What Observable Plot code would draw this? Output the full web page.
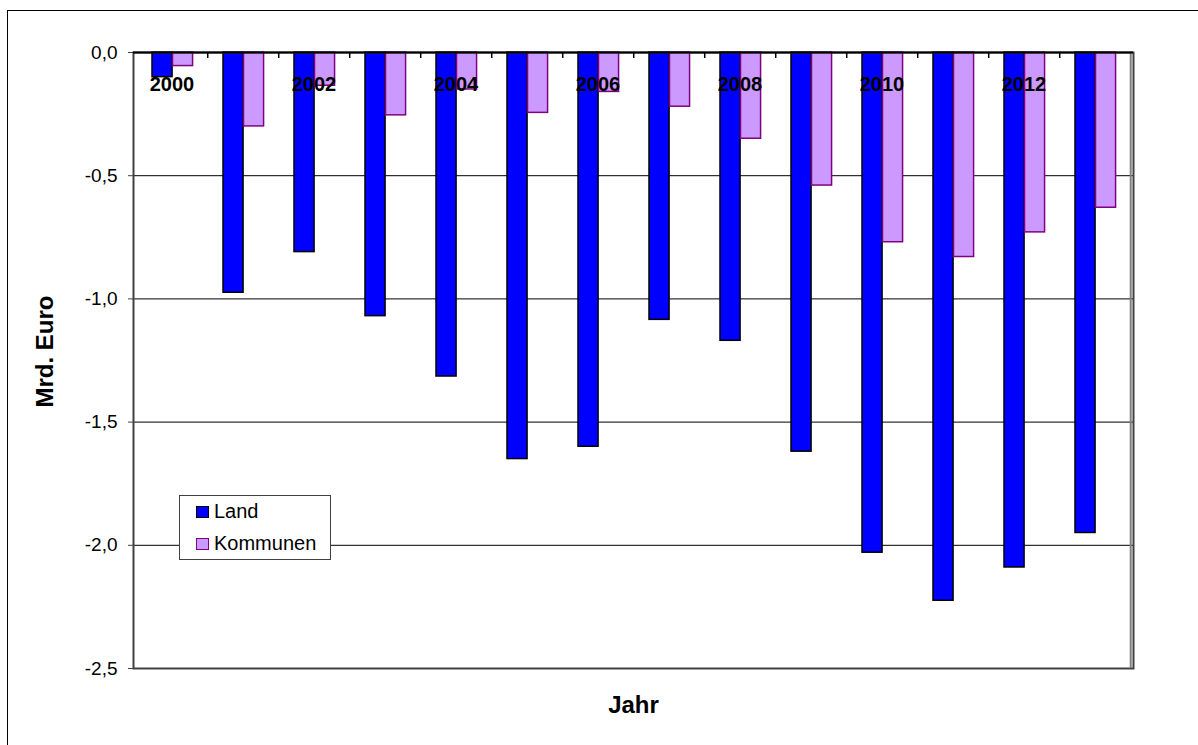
<!DOCTYPE html>
<html>
<head>
<meta charset="utf-8">
<script src="https://cdn.jsdelivr.net/npm/d3@7"></script>
<script src="https://cdn.jsdelivr.net/npm/@observablehq/plot@0.6"></script>
<style>
  html, body { margin: 0; padding: 0; background: #fff; overflow: hidden; }
  body { width: 1198px; height: 745px; position: relative; font-family: Arial, "Liberation Sans", sans-serif; }
  #outer { position: absolute; left: 7px; top: 10px; width: 1400px; height: 900px; border: 1px solid #000; box-sizing: border-box; }
  #chart { position: absolute; left: 0; top: 0; }
  #legend { position: absolute; left: 179px; top: 495px; width: 152px; height: 65px; box-sizing: border-box;
            border: 1.5px solid #404040; background: #fff; font-size: 20px; line-height: 23px; color: #000; }
  .item { position: absolute; left: 16px; display: flex; align-items: center; }
  .sw { width: 13px; height: 12px; margin-right: 5px; box-sizing: border-box; }
</style>
</head>
<body>
<div id="outer"></div>
<div id="chart"></div>
<div id="legend">
  <div class="item" style="top:4px"><span class="sw" id="sw0"></span><span id="lb0"></span></div>
  <div class="item" style="top:36px"><span class="sw" id="sw1"></span><span id="lb1"></span></div>
</div>
<script>
const years = [2000, 2001, 2002, 2003, 2004, 2005, 2006, 2007, 2008, 2009, 2010, 2011, 2012, 2013];
const land = [-0.10, -0.975, -0.81, -1.07, -1.315, -1.65, -1.60, -1.085, -1.17, -1.62, -2.03, -2.225, -2.09, -1.95];
const kommunen = [-0.055, -0.30, -0.135, -0.255, -0.15, -0.245, -0.16, -0.22, -0.35, -0.54, -0.77, -0.83, -0.73, -0.63];
const seriesNames = ["Land", "Kommunen"];
const labelYears = [2000, 2002, 2004, 2006, 2008, 2010, 2012];
const yTicks = [0, -0.5, -1.0, -1.5, -2.0, -2.5];
const gridValues = [-0.5, -1.0, -1.5, -2.0];

const fillLand = "#0000ff", strokeLand = "#000000";
const fillKomm = "#cc99ff", strokeKomm = "#800080";

const rows = years.map((y, i) => ({year: y, land: land[i], kommunen: kommunen[i]}));

const W = 1198, H = 745, ML = 133, MR = 65, MT = 52, MB = 77;
const bw = (W - ML - MR) / years.length;
const offL = bw * 0.224, barW = bw * 0.287;

const fmt = d => d.toFixed(1).replace(".", ",");

const chart = Plot.plot({
  width: W, height: H,
  marginLeft: ML, marginRight: MR, marginTop: MT, marginBottom: MB,
  style: {fontFamily: 'Arial, "Liberation Sans", sans-serif', background: "transparent", overflow: "visible"},
  x: {type: "band", domain: years, padding: 0, axis: null},
  y: {domain: [-2.5, 0], axis: null},
  marks: [
    Plot.ruleY(gridValues, {stroke: "#000", strokeWidth: 1}),
    Plot.barY(rows, {x: "year", y: "land", fill: fillLand, stroke: strokeLand, strokeWidth: 1.5,
      insetLeft: offL, insetRight: bw - offL - barW}),
    Plot.barY(rows, {x: "year", y: "kommunen", fill: fillKomm, stroke: strokeKomm, strokeWidth: 1.5,
      insetLeft: offL + barW, insetRight: bw - offL - 2 * barW}),
    Plot.frame({stroke: "#404040", strokeWidth: 2}),
    Plot.ruleX([years[years.length - 1]], {dx: bw / 2, stroke: "#808080", strokeWidth: 2}),
    Plot.ruleY([0], {stroke: "#000", strokeWidth: 2}),
    Plot.ruleX(years.slice(0, -1), {x: d => d, y1: 0, y2: 0, dx: bw / 2, insetBottom: -6, stroke: "#000", strokeWidth: 1.5}),
    Plot.axisY(yTicks, {tickSize: 5, tickPadding: 11, tickFormat: fmt, fontSize: 19, stroke: "#404040", fill: "#000", label: null}),
    Plot.text(labelYears, {x: d => d, y: () => 0, dy: 32, text: d => String(d), fontSize: 20, fontWeight: "bold", fill: "#000", lineAnchor: "middle"}),
    Plot.text(["Mrd. Euro"], {frameAnchor: "left", rotate: -90, textAnchor: "middle", dx: -88, dy: -9, fontSize: 24, fontWeight: "bold", fill: "#000"}),
    Plot.text(["Jahr"], {frameAnchor: "bottom", dy: 37, fontSize: 24, fontWeight: "bold", fill: "#000", lineAnchor: "middle"})
  ]
});
document.getElementById("chart").appendChild(chart);

const sw0 = document.getElementById("sw0");
sw0.style.background = fillLand; sw0.style.border = "1.5px solid " + strokeLand;
const sw1 = document.getElementById("sw1");
sw1.style.background = fillKomm; sw1.style.border = "1.5px solid " + strokeKomm;
document.getElementById("lb0").textContent = seriesNames[0];
document.getElementById("lb1").textContent = seriesNames[1];
</script>
</body>
</html>
